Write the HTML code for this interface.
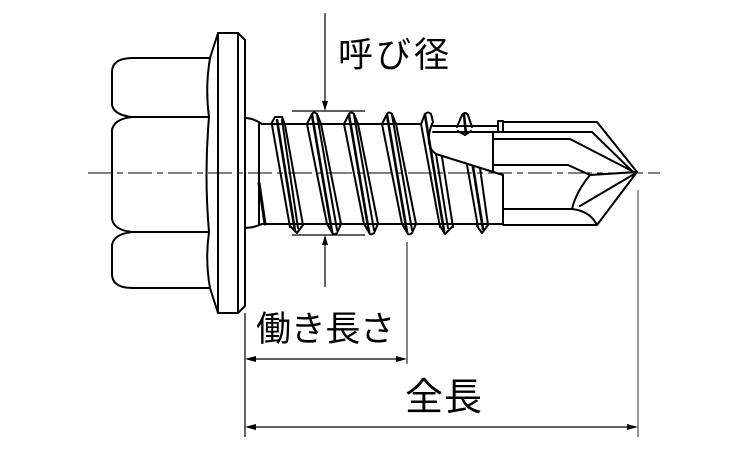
<!DOCTYPE html>
<html><head><meta charset="utf-8"><style>
html,body{margin:0;padding:0;background:#fff;}
svg{display:block;}
text{font-family:"Liberation Sans","Noto Sans CJK JP",sans-serif;fill:#000;}
</style></head><body>
<svg width="750" height="450" viewBox="0 0 750 450" xmlns="http://www.w3.org/2000/svg">
<!-- center line -->
<line x1="88" y1="173" x2="660" y2="173" stroke="#000" stroke-width="1" stroke-dasharray="24 5 6 5"/>
<g fill="none" stroke="#000" stroke-width="2" stroke-linejoin="round" stroke-linecap="round">
  <!-- hex head -->
  <path d="M218,33 L210,58 L133,58 Q112,58 112,72 L112,105 Q114,115 132,117 M132,117 Q114,119 112,130 L112,219 Q114,230 132,232 M132,232 Q114,234 112,245 L112,274 Q112,288 133,288 L210,288 L218,313"/>
  <path d="M132,117 L209,117 M132,232 L209,232"/>
  <path d="M210,58 Q205,88 209,117 Q204,175 209,232 Q205,260 210,288"/>
  <!-- flange -->
  <path d="M218,33 L218,313 M218,33 L238,33 L245,40 L245,306 L238,313 L218,313 M238,33 L238,313"/>
  <!-- neck / shank -->
  <path d="M245,118 Q253,118 262,124 L421,124 M245,228 Q253,228 262,224 L503,224"/>
  <path d="M259,124 L259,224"/>
  <path d="M259,183 L265,224" stroke-width="3"/>
  <!-- thread 1 -->
  <path d="M271,124 L275,117 L282,117 L285,125 M272,125 L290,227 M282,120 L298,228 M285,125 L303,225 M290,226 L297,233 L303,225"/>
  <path d="M277,120 L295,231" stroke-width="2.6"/>
  <!-- thread 2 -->
  <path d="M307,124 L312,114 Q314,111 317,114 L321,124 M307,124 L327,224 M317,115 L337,230 M321,124 L341,224 M327,224 L333,234 Q335,235 337,233 L341,224"/>
  <path d="M312,115 L332,232" stroke-width="2.6"/>
  <!-- thread 3 -->
  <path d="M344,124 L349,114 Q351,111 354,114 L358,124 M344,124 L364,224 M354,115 L374,230 M358,124 L378,224 M364,224 L370,234 Q372,235 374,233 L378,224"/>
  <path d="M349,115 L369,232" stroke-width="2.6"/>
  <!-- thread 4 -->
  <path d="M382,124 L387,114 Q389,111 392,114 L396,124 M382,124 L402,224 M392,115 L412,230 M396,124 L416,224 M402,224 L408,234 Q410,235 412,233 L416,224"/>
  <path d="M387,115 L407,232" stroke-width="2.6"/>
  <!-- thread 5 -->
  <path d="M421,124 L425,114 Q428,111 431,114 L433,122 Q428,132 429,143 Q430,150 436,154 L503,175 M421,124 L440,227 M436,154 L448,228 M442,157 L453,227 M440,226 L445,234 L453,226"/>
  <path d="M425,115 L444,231" stroke-width="2.6"/>
  <!-- thread 6 lower -->
  <path d="M467,165 L478,227 M480,168 L488,225 M477,226 L482,233 L488,225"/>
  <path d="M473,167 L483,229" stroke-width="2.6"/>
  <!-- upper thin ridge with small crest -->
  <path d="M433,126 L498,126 M433,132 L592,132 L631,170"/>
  <path d="M457,127 L462,115 Q465,111 468,115 L472,127 M458,131 L465,135 L471,131"/>
  <path d="M464,115 L466,134" stroke-width="2.6"/>
  <path d="M498,121 L503,121 L503,132 L498,132 Z"/>
  <!-- drill point -->
  <path d="M503,122 L597,122 L637,172 L597,225 L503,225 L503,175"/>
  <path d="M493,132 L493,172"/>
  <path d="M493,139 L570,139 L634,172"/>
  <path d="M493,165 L568,165 L590,175 L637,172"/>
  <path d="M590,175 Q576,192 572,209 M503,209 L572,209 Q590,211 597,225 M580,206 L636,173"/>
</g>
<!-- dimension / extension lines -->
<g stroke="#000" stroke-width="1.2" fill="none">
  <line x1="325" y1="13" x2="325" y2="104"/>
  <line x1="292" y1="111" x2="365" y2="111"/>
  <line x1="292" y1="235" x2="365" y2="235"/>
  <line x1="325" y1="243" x2="325" y2="287"/>
  <line x1="245" y1="313" x2="245" y2="437"/>
  <line x1="407" y1="242" x2="407" y2="364" stroke="#333"/>
  <line x1="638" y1="190" x2="638" y2="437" stroke="#555"/>
  <line x1="252" y1="359" x2="400" y2="359"/>
  <line x1="252" y1="427" x2="631" y2="427"/>
</g>
<g fill="#000" stroke="none">
  <polygon points="325,111 322,101 328,101"/>
  <polygon points="325,235 322,245 328,245"/>
  <polygon points="245,359 256,356 256,362"/>
  <polygon points="407,359 396,356 396,362"/>
  <polygon points="245,427 256,424 256,430"/>
  <polygon points="638,427 627,424 627,430"/>
</g>
<!-- labels -->
<text x="338" y="67" font-size="35" textLength="111" lengthAdjust="spacing">呼び径</text>
<text x="256" y="341" font-size="35" textLength="139" lengthAdjust="spacing">働き長さ</text>
<text x="405" y="410" font-size="38" textLength="77" lengthAdjust="spacing">全長</text>
</svg>
</body></html>
